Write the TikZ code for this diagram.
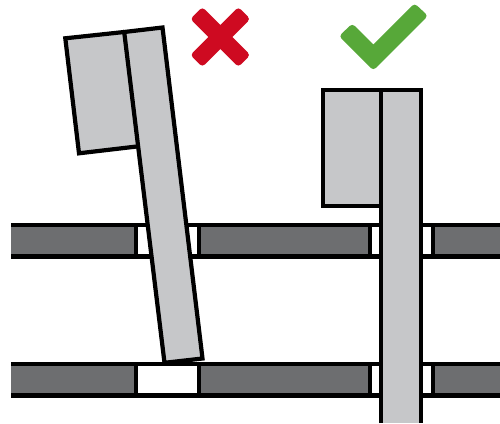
\documentclass[tikz,border=0pt]{standalone}
\definecolor{railgray}{HTML}{6D6E70}
\definecolor{partgray}{HTML}{C6C7C9}
\definecolor{crossred}{HTML}{CE0A21}
\definecolor{checkgreen}{HTML}{57A839}
\tikzset{
  outline/.style={draw=black,line width=4.2pt,line join=miter,miter limit=10},
  rail/.style={fill=railgray},
  part/.style={outline,fill=partgray},
  rule/.style={draw=black,line width=4.2pt}
}
\newcommand{\railrow}[2]{%
  \fill[rail] (11,#1) rectangle (500,#2);
  \fill[white] (136,#1) rectangle (199,#2);
  \fill[white] (370,#1) rectangle (433,#2);
  \draw[rule] (11,#1) -- (500,#1);
  \draw[rule] (11,#2) -- (500,#2);
  \foreach \xx in {136,199,370,433}{\draw[rule] (\xx,#1) -- (\xx,#2);}
}
\begin{document}
\begin{tikzpicture}[x=1pt,y=-1pt]
\useasboundingbox (0,0) rectangle (500,423);
\fill[white] (0,0) rectangle (500,423);
\railrow{225.3}{256.5}
\railrow{364}{395.5}
% wrong case: tilted part
\draw[part] (124.2,32) -- (65.3,38.3) -- (79,153.3) -- (137.6,146.4);
\draw[part] (124.2,32) -- (162.5,27.5) -- (202.5,358.5) -- (164.5,362.8) -- cycle;
% right case: upright part
\fill[partgray] (381.3,90) rectangle (421.3,423);
\draw[part] (381.3,90) -- (323,90) -- (323,206) -- (381.3,206);
\draw[rule,line join=miter] (381.3,423) -- (381.3,90) -- (421.3,90) -- (421.3,423);
% cross mark
\fill[crossred] (220.3,25) [rounded corners=3.5pt] -- (238.3,7) -- (250.3,19) [sharp corners] -- (232.3,37)
  [rounded corners=3.5pt] -- (250.3,55) -- (238.3,67) [sharp corners] -- (220.3,49)
  [rounded corners=3.5pt] -- (202.3,67) -- (190.3,55) [sharp corners] -- (208.3,37)
  [rounded corners=3.5pt] -- (190.3,19) -- (202.3,7) [sharp corners] -- cycle;
% check mark
\fill[checkgreen] (373.3,44.5) [rounded corners=3.5pt] -- (414.5,3.3) -- (428,15.8) -- (373.3,70.5) -- (339,36.2) -- (352.3,23.5) [sharp corners] -- cycle;
\end{tikzpicture}
\end{document}
